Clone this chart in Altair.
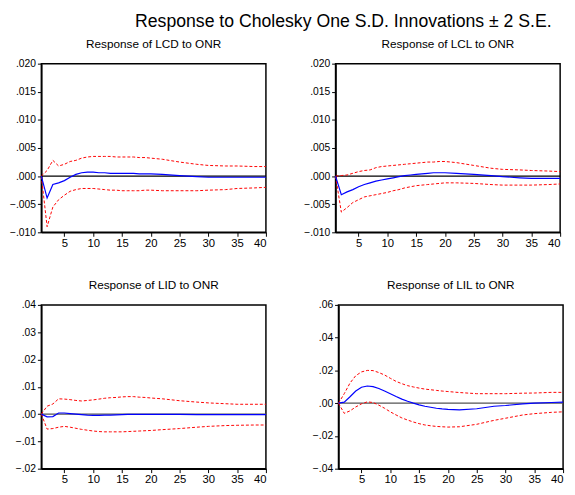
import altair as alt
import pandas as pd

periods = [1, 2, 3, 4, 5, 6, 7, 8, 9, 10, 11, 12, 13, 14, 15, 16, 17, 18, 19, 20,
           22, 25, 28, 30, 33, 35, 38, 40]

lcd_resp = [0, -0.0039, -0.0015, -0.0012, -0.0008, -0.0002, 0.0003, 0.0006, 0.0007, 0.0007,
            0.0006, 0.0006, 0.0005, 0.0005, 0.0005, 0.0005, 0.0005, 0.0004, 0.0004, 0.0004,
            0.0003, 0.0001, -0.0001, -0.0002, -0.0002, -0.0002, -0.0002, -0.0002]
lcd_upper = [0, 0.0010, 0.0028, 0.0018, 0.0021, 0.0026, 0.0028, 0.0032, 0.0034, 0.0035,
             0.0035, 0.0035, 0.0035, 0.0034, 0.0034, 0.0034, 0.0034, 0.0033, 0.0033, 0.0032,
             0.0030, 0.0025, 0.0021, 0.0019, 0.0018, 0.0018, 0.0017, 0.0017]
lcd_lower = [0, -0.0090, -0.0055, -0.0042, -0.0034, -0.0027, -0.0024, -0.0022, -0.0022, -0.0022,
             -0.0023, -0.0024, -0.0025, -0.0025, -0.0026, -0.0026, -0.0026, -0.0026, -0.0025, -0.0025,
             -0.0026, -0.0026, -0.0026, -0.0025, -0.0024, -0.0022, -0.0021, -0.0020]

lcl_resp = [0, -0.0033, -0.0028, -0.0024, -0.0019, -0.0015, -0.0012, -0.0009, -0.0007, -0.0005,
            -0.0003, -0.0001, 0.0001, 0.0002, 0.0003, 0.0004, 0.0005, 0.0006, 0.0006, 0.0006,
            0.0005, 0.0003, 0.0001, -0.0001, -0.0003, -0.0004, -0.0004, -0.0004]
lcl_upper = [0, 0.0001, 0.0002, 0.0005, 0.0008, 0.0010, 0.0011, 0.0015, 0.0017, 0.0018,
             0.0019, 0.0020, 0.0021, 0.0022, 0.0023, 0.0024, 0.0025, 0.0025, 0.0026, 0.0026,
             0.0024, 0.0019, 0.0014, 0.0012, 0.0011, 0.0010, 0.0009, 0.0008]
lcl_lower = [0, -0.0064, -0.0056, -0.0047, -0.0042, -0.0037, -0.0035, -0.0033, -0.0031, -0.0029,
             -0.0026, -0.0024, -0.0021, -0.0019, -0.0017, -0.0016, -0.0015, -0.0014, -0.0013, -0.0012,
             -0.0012, -0.0013, -0.0015, -0.0016, -0.0016, -0.0016, -0.0015, -0.0014]

lid_resp = [0, -0.0010, -0.0009, 0.0004, 0.0004, 0.0002, 0.0000, -0.0002, -0.0004, -0.0005,
            -0.0005, -0.0004, -0.0004, -0.0003, -0.0002, -0.0001, -0.0001, -0.0001, -0.0001, -0.0001,
            -0.0001, -0.0001, -0.0002, -0.0002, -0.0002, -0.0002, -0.0002, -0.0002]
lid_upper = [0, 0.0029, 0.0037, 0.0056, 0.0055, 0.0053, 0.0050, 0.0048, 0.0050, 0.0052,
             0.0055, 0.0058, 0.0060, 0.0061, 0.0063, 0.0064, 0.0064, 0.0062, 0.0061, 0.0059,
             0.0056, 0.0049, 0.0044, 0.0041, 0.0038, 0.0036, 0.0036, 0.0036]
lid_lower = [0, -0.0055, -0.0053, -0.0048, -0.0045, -0.0048, -0.0052, -0.0056, -0.0059, -0.0062,
             -0.0064, -0.0065, -0.0065, -0.0065, -0.0065, -0.0064, -0.0063, -0.0062, -0.0061, -0.0060,
             -0.0057, -0.0053, -0.0048, -0.0045, -0.0042, -0.0041, -0.0040, -0.0040]

lil_resp = [0, 0.0006, 0.0039, 0.0074, 0.0097, 0.0105, 0.0101, 0.0090, 0.0074, 0.0058,
            0.0041, 0.0025, 0.0012, 0.0000, -0.0010, -0.0019, -0.0025, -0.0031, -0.0035, -0.0038,
            -0.0041, -0.0034, -0.0019, -0.0014, -0.0004, 0.0000, 0.0004, 0.0006]
lil_upper = [0, 0.0058, 0.0123, 0.0168, 0.0191, 0.0200, 0.0199, 0.0187, 0.0172, 0.0152,
             0.0133, 0.0119, 0.0107, 0.0099, 0.0092, 0.0086, 0.0082, 0.0078, 0.0074, 0.0071,
             0.0065, 0.0058, 0.0058, 0.0058, 0.0061, 0.0062, 0.0066, 0.0066]
lil_lower = [0, -0.0062, -0.0047, -0.0023, -0.0004, 0.0008, 0.0004, -0.0012, -0.0031, -0.0053,
             -0.0072, -0.0090, -0.0103, -0.0115, -0.0125, -0.0133, -0.0138, -0.0142, -0.0144, -0.0146,
             -0.0144, -0.0129, -0.0105, -0.0092, -0.0072, -0.0064, -0.0056, -0.0053]

x_ticks = [5, 10, 15, 20, 25, 30, 35, 40]
FONT = "Liberation Sans"


def panel(title, resp, upper, lower, ydom, yticks, fmt, zero_color, w, h, flush):
    df = pd.DataFrame({"period": periods, "resp": resp, "upper": upper, "lower": lower})
    xaxis_kw = dict(values=x_ticks, title=None, grid=False, tickSize=4,
                    labelFontSize=11.5, labelFont=FONT, labelColor="black",
                    domainColor="black", domainWidth=1.5, tickColor="black", labelPadding=1)
    if flush:
        xaxis_kw["labelFlush"] = True
    xenc = alt.X("period:Q", scale=alt.Scale(domain=[1, 40], nice=False, zero=False),
                 axis=alt.Axis(**xaxis_kw))
    yscale = alt.Scale(domain=ydom, nice=False, zero=False)
    yaxis = alt.Axis(values=yticks, title=None, grid=False, tickSize=4,
                     labelExpr="replace(format(datum.value, '%s'), '0.', '.')" % fmt,
                     labelFontSize=10.5, labelFont=FONT, labelColor="black",
                     domainColor="black", domainWidth=1.5, tickColor="black", labelPadding=2)
    base = alt.Chart(df)
    zero = alt.Chart(pd.DataFrame({"z": [0.0]})).mark_rule(
        color=zero_color, strokeWidth=1.3).encode(y=alt.Y("z:Q", scale=yscale, axis=yaxis))
    up = base.mark_line(color="#ff0000", strokeWidth=1, strokeDash=[3, 2]).encode(
        x=xenc, y=alt.Y("upper:Q", scale=yscale, axis=yaxis))
    lo = base.mark_line(color="#ff0000", strokeWidth=1, strokeDash=[3, 2]).encode(
        x=xenc, y=alt.Y("lower:Q", scale=yscale, axis=yaxis))
    rs = base.mark_line(color="#0000ff", strokeWidth=1.2).encode(
        x=xenc, y=alt.Y("resp:Q", scale=yscale, axis=yaxis))
    return alt.layer(zero, up, lo, rs).properties(
        width=w, height=h,
        title=alt.TitleParams(title, fontSize=12, font=FONT, fontWeight="normal",
                              color="black", offset=8))


p1 = panel("Response of LCD to ONR", lcd_resp, lcd_upper, lcd_lower, [-0.010, 0.020],
           [-0.010, -0.005, 0.0, 0.005, 0.010, 0.015, 0.020], ".3f", "black", 229, 172, False)
p2 = panel("Response of LCL to ONR", lcl_resp, lcl_upper, lcl_lower, [-0.010, 0.020],
           [-0.010, -0.005, 0.0, 0.005, 0.010, 0.015, 0.020], ".3f", "black", 229, 172, True)
p3 = panel("Response of LID to ONR", lid_resp, lid_upper, lid_lower, [-0.02, 0.04],
           [-0.02, -0.01, 0.0, 0.01, 0.02, 0.03, 0.04], ".2f", "#555555", 229, 167, False)
p4 = panel("Response of LIL to ONR", lil_resp, lil_upper, lil_lower, [-0.04, 0.06],
           [-0.04, -0.02, 0.0, 0.02, 0.04, 0.06], ".2f", "#555555", 229, 167, True)

row1 = alt.hconcat(p1, p2, spacing=33)
row2 = alt.hconcat(p3, p4, spacing=42)

chart = alt.vconcat(row1, row2, spacing=29).properties(
    title=alt.TitleParams("Response to Cholesky One S.D. Innovations \u00b1 2 S.E.",
                          fontSize=18, font=FONT, fontWeight="normal", color="black",
                          anchor="middle", dx=57, offset=7),
    padding={"left": 0, "top": 0, "right": 0, "bottom": 0},
).configure(background="white", view=alt.ViewConfig(stroke="black", strokeWidth=1.5))

chart.save("out.html", embed_options={"renderer": "svg", "actions": False})
